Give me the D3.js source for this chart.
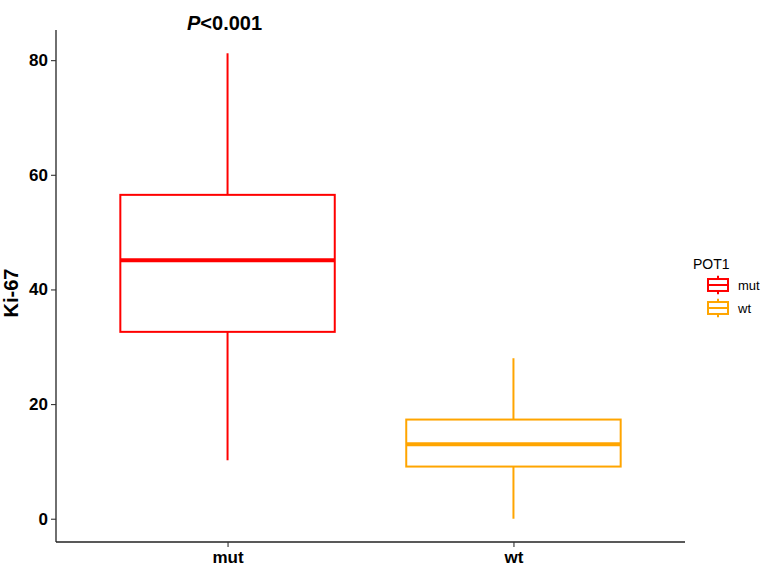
<!DOCTYPE html>
<html>
<head>
<meta charset="utf-8">
<script src="https://cdn.jsdelivr.net/npm/d3@7"></script>
<style>
  html, body { margin: 0; padding: 0; background: #fff; }
  svg { display: block; }
</style>
</head>
<body>
<svg id="chart" width="765" height="567"></svg>
<script>
// ---- data ----
const categories = ["mut", "wt"];
const whiskerLow  = [10.2, 0.0];
const q1          = [32.6, 9.1];
const median      = [45.1, 13.0];
const q3          = [56.5, 17.3];
const whiskerHigh = [81.2, 28.0];
const colors      = ["#FF0000", "#FFA500"];
const yTicks      = [0, 20, 40, 60, 80];
const annotation  = "<0.001";
const legendTitle = "POT1";
const yLabel      = "Ki-67";

// ---- layout ----
const svg = d3.select("#chart");
const panel = { left: 56, right: 685, top: 30, bottom: 542 };

const y = d3.scaleLinear()
  .domain([-4.06, 85.26])
  .range([panel.bottom, panel.top]);

// discrete x with ggplot-like expansion (0.6 units each side)
const xc = d3.scaleLinear()
  .domain([0.4, categories.length + 0.6])
  .range([panel.left, panel.right]);
const xPos = i => xc(i + 1);
const boxHalf = (xc(1.375) - xc(1));

const data = categories.map((c, i) => ({
  cat: c, lo: whiskerLow[i], q1: q1[i], med: median[i], q3: q3[i], hi: whiskerHigh[i], color: colors[i], i
}));

// ---- boxes ----
const g = svg.append("g");
data.forEach(d => {
  const cx = xPos(d.i);
  const bg = g.append("g");
  bg.append("line").attr("x1", cx).attr("x2", cx)
    .attr("y1", y(d.q3)).attr("y2", y(d.hi))
    .attr("stroke", d.color).attr("stroke-width", 2);
  bg.append("line").attr("x1", cx).attr("x2", cx)
    .attr("y1", y(d.q1)).attr("y2", y(d.lo))
    .attr("stroke", d.color).attr("stroke-width", 2);
  bg.append("rect")
    .attr("x", cx - boxHalf).attr("width", 2 * boxHalf)
    .attr("y", y(d.q3)).attr("height", y(d.q1) - y(d.q3))
    .attr("fill", "#fff").attr("stroke", d.color).attr("stroke-width", 2);
  bg.append("line")
    .attr("x1", cx - boxHalf).attr("x2", cx + boxHalf)
    .attr("y1", y(d.med)).attr("y2", y(d.med))
    .attr("stroke", d.color).attr("stroke-width", 4);
});

// ---- axes ----
const font = "'Liberation Sans', Arial, sans-serif";
const yAxis = d3.axisLeft(y).tickValues(yTicks).tickSize(5).tickPadding(3).tickFormat(d3.format("d"));
const ya = svg.append("g").attr("transform", `translate(${panel.left},0)`).call(yAxis);
ya.select(".domain").attr("d", `M0,${panel.top}V${panel.bottom}`).attr("stroke", "#222").attr("stroke-width", 1.3);
ya.selectAll(".tick line").attr("stroke", "#333").attr("stroke-width", 1.1);
ya.selectAll(".tick text").attr("font-family", font).attr("font-size", 17)
  .attr("font-weight", "bold").attr("fill", "#000");

const xb = d3.scalePoint().domain(categories).range([xPos(0), xPos(1)]);
const xAxis = d3.axisBottom(xb).tickSize(5).tickPadding(4);
const xa = svg.append("g").attr("transform", `translate(0,${panel.bottom})`).call(xAxis);
xa.select(".domain").attr("d", `M${panel.left},0H${panel.right}`).attr("stroke", "#222").attr("stroke-width", 1.3);
xa.selectAll(".tick line").attr("stroke", "#333").attr("stroke-width", 1.1);
xa.selectAll(".tick text").attr("font-family", font).attr("font-size", 17)
  .attr("font-weight", "bold").attr("fill", "#000");

// y label
svg.append("text")
  .attr("transform", `translate(18,${(panel.top + panel.bottom) / 2 + 7}) rotate(-90)`)
  .attr("text-anchor", "middle")
  .attr("font-family", font).attr("font-size", 20).attr("font-weight", "bold")
  .text(yLabel);

// annotation
const ann = svg.append("text")
  .attr("x", xPos(0) - 3).attr("y", 30)
  .attr("text-anchor", "middle")
  .attr("font-family", font).attr("font-size", 20).attr("font-weight", "bold");
ann.append("tspan").attr("font-style", "italic").text("P");
ann.append("tspan").text(annotation);

// ---- legend ----
const lg = svg.append("g");
lg.append("text").attr("x", 693).attr("y", 269)
  .attr("font-family", font).attr("font-size", 14).text(legendTitle);
data.forEach((d, k) => {
  const cy = 285 + k * 23;
  const cx = 718;
  const kw = 20, kh = 23;
  const kg = lg.append("g");
  kg.append("line").attr("x1", cx).attr("x2", cx)
    .attr("y1", cy - kh * 0.4).attr("y2", cy + kh * 0.4)
    .attr("stroke", d.color).attr("stroke-width", 2);
  kg.append("rect").attr("x", cx - kw / 2).attr("width", kw)
    .attr("y", cy - kh * 0.26).attr("height", kh * 0.52)
    .attr("fill", "#fff").attr("stroke", d.color).attr("stroke-width", 2);
  kg.append("line").attr("x1", cx - kw / 2).attr("x2", cx + kw / 2)
    .attr("y1", cy).attr("y2", cy)
    .attr("stroke", d.color).attr("stroke-width", 2);
  kg.append("text").attr("x", 738).attr("y", cy + 4.5)
    .attr("font-family", font).attr("font-size", 13).text(d.cat);
});
</script>
</body>
</html>
